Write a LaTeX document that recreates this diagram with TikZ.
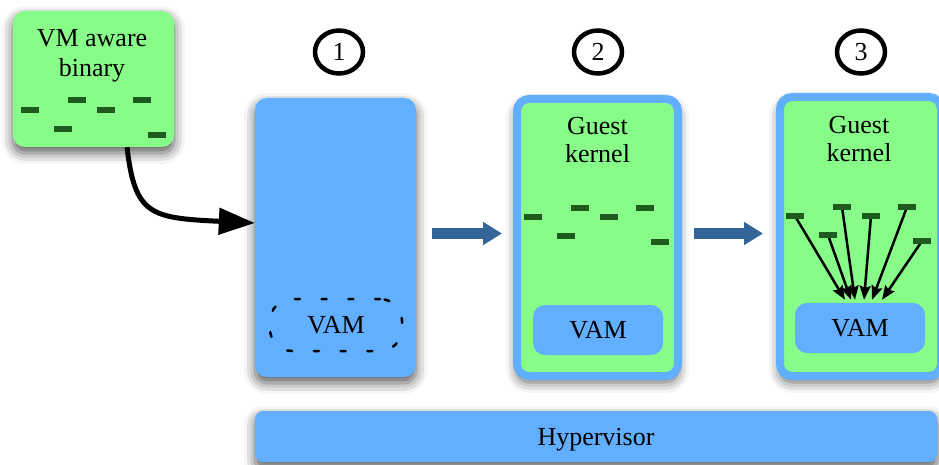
\documentclass[tikz,border=0pt]{standalone}
\usepackage{fontspec}
\setmainfont{Liberation Serif}
\usetikzlibrary{arrows.meta,calc,shapes.geometric,shadows.blur}

\definecolor{vmgreen}{RGB}{136,252,136}
\definecolor{vmblue}{RGB}{98,175,255}
\definecolor{codebar}{RGB}{31,90,31}
\definecolor{flowblue}{RGB}{51,101,152}

\tikzset{
  softshadow/.style={blur shadow={shadow xshift=0pt, shadow yshift=-6pt,
      shadow blur radius=11pt, shadow opacity=65}},
  panel/.style={rectangle, rounded corners=12pt, inner sep=0pt, softshadow},
  codebox/.style={panel, fill=vmgreen},
  hostbox/.style={panel, fill=vmblue},
  guestbox/.style={panel, fill=vmgreen, draw=vmblue, line width=8pt},
  vambox/.style={rectangle, rounded corners=12pt, fill=vmblue, inner sep=0pt,
      minimum width=130pt, minimum height=50pt, font=\fontsize{26}{28}\selectfont},
  txt/.style={font=\fontsize{26}{28}\selectfont, align=center, inner sep=0pt},
  instr/.style={rectangle, fill=codebar, minimum width=18pt, minimum height=6pt, inner sep=0pt},
  stepmark/.style={ellipse, draw=black, line width=4.5pt, minimum width=48pt,
      minimum height=43pt, inner sep=0pt, font=\fontsize{26}{28}\selectfont},
  flowarrow/.style={draw=flowblue, line width=11pt,
      -{Triangle[length=19pt,width=22pt]}},
  callarrow/.style={draw=black, line width=2.5pt,
      -{Stealth[length=14pt,width=11pt,inset=2pt]}},
}

\begin{document}
\begin{tikzpicture}[x=1pt,y=-1pt]
\useasboundingbox (0,0) rectangle (939,465);
\clip (0,0) rectangle (939,465);

% step numbers
\node[stepmark] (s1) at (339,52) {1};
\node[stepmark] (s2) at (598,52) {2};
\node[stepmark] (s3) at (861,52) {3};

% the binary with its VM aware instructions
\node[codebox, minimum width=161pt, minimum height=136pt] (vmbin) at (93.5,79) {};
\node[txt, execute at begin node={\setlength{\baselineskip}{29.5pt}}] (vmbintxt) at (92,56) {VM aware\\binary};
\foreach \n/\px/\py in {a/30/110, b/77/100, c/63/129, d/106/110, e/142/100, f/157/135}
  \node[instr] (b\n) at (\px,\py) {};

% stage 1: plain host box with the VAM region still empty
\node[hostbox, minimum width=161pt, minimum height=279pt] (host) at (335.5,237.5) {};
\node[draw=black, line width=2.5pt, line cap=round, dash pattern=on 5pt off 21.7pt,
      rounded corners=22pt, minimum width=132pt, minimum height=52pt, inner sep=0pt,
      font=\fontsize{26}{28}\selectfont] (vam1) at (336,325) {VAM};

% stage 2: guest kernel with a VAM
\node[guestbox, minimum width=161pt, minimum height=277pt] (guest2) at (597.5,237.5) {};
\node[txt] (g2txt) at (597.5,140) {Guest\\kernel};
\foreach \n/\px/\py in {a/533/217, b/580/208, c/609/217, d/645/208, e/566/236, f/660/242}
  \node[instr] (g\n) at (\px,\py) {};
\node[vambox] (vam2) at (598,330) {VAM};

% stage 3: guest kernel whose instructions call into the VAM
\node[guestbox, minimum width=161pt, minimum height=279pt] (guest3) at (860.5,236.5) {};
\node[txt] (g3txt) at (859,139) {Guest\\kernel};
\node[vambox] (vam3) at (860,328) {VAM};
\foreach \n/\px/\py in {a/795/216, b/828/235, c/842/207, d/871/216, e/907/207, f/922/241}
  \node[instr] (h\n) at (\px,\py) {};
\foreach \n/\dx in {a/-15, b/-9, c/-5, d/4, e/12, f/22}
  \coordinate (t\n) at ($(vam3.north)+(\dx,-3)$);
\foreach \n in {a,b,c,d,e,f}
  \draw[callarrow] (h\n.center) -- (t\n);
\foreach \n/\px/\py in {a/795/216, b/828/235, c/842/207, d/871/216, e/907/207, f/922/241}
  \node[instr] at (\px,\py) {};

% hypervisor
\node[hostbox, rounded corners=8pt, minimum width=682pt, minimum height=51pt,
      font=\fontsize{26}{28}\selectfont, text depth=0pt] (hyp) at (596,436.5) {Hypervisor};

% connectors
\draw[line width=5pt, -{Triangle[length=36pt,width=26pt]}]
  ($(vmbin.south)+(33.5,0)$) .. controls (135,215) and (150,218) .. (host.west |- 0,223);
\draw[flowarrow] ($(host.east)+(16,-4)$) -- ($(guest2.west)+(-11,-4)$);
\draw[flowarrow] ($(guest2.east)+(12,-4)$) -- ($(guest3.west)+(-13,-3)$);
\end{tikzpicture}
\end{document}
